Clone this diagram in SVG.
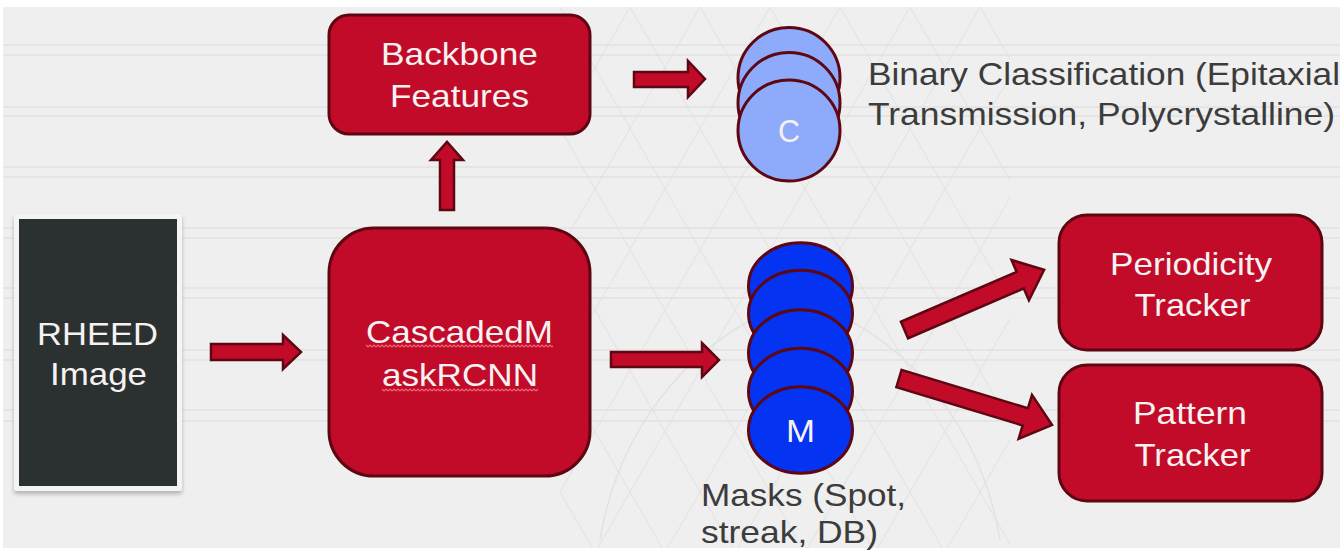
<svg xmlns="http://www.w3.org/2000/svg" width="1340" height="551" viewBox="0 0 1340 551">
  <defs>
    <style>
      .box { fill: #c20b29; stroke: #5e0612; stroke-width: 3; }
      .arrow { fill: #c20b29; stroke: #5e0612; stroke-width: 2.5; stroke-linejoin: miter; }
      .wt { font-family: "Liberation Sans", Arial, sans-serif; font-size: 32px; fill: #f6f2f2; text-anchor: middle; }
      .dk { font-family: "Liberation Sans", Arial, sans-serif; font-size: 32px; fill: #3c3c3c; }
      .disc-c { fill: #8eaafb; stroke: #5e0612; stroke-width: 3; }
      .disc-m { fill: #0434f2; stroke: #5e0612; stroke-width: 3; }
      .band { stroke: #e5e5e5; stroke-width: 2; }
    </style>
    <!-- faint triangular lattice used as a watermark behind the centre -->
    <pattern id="lattice" width="70" height="121.24" patternUnits="userSpaceOnUse" x="560" y="7">
      <path d="M0,0 L70,121.24 M70,0 L0,121.24 M35,-60.62 L105,60.62 M-35,60.62 L35,181.86 M35,60.62 L-35,181.86 M105,-60.62 L35,60.62" stroke="#dcdcdc" stroke-width="1.2" fill="none"/>
    </pattern>
    <!-- wavy spell-check underline -->
    <pattern id="squiggle" width="4" height="4" patternUnits="userSpaceOnUse" x="0" y="0">
      <path d="M0,3 L2,1 L4,3" stroke="#f06a78" stroke-width="1.1" fill="none"/>
    </pattern>
    <filter id="shadow" x="-10%" y="-10%" width="120%" height="120%">
      <feDropShadow dx="0" dy="3" stdDeviation="2" flood-color="#000" flood-opacity="0.25"/>
    </filter>
  </defs>

  <!-- page background -->
  <rect x="0" y="0" width="1340" height="551" fill="#ffffff"/>
  <rect x="3" y="7" width="1337" height="541" fill="#efefef"/>
  <g id="background-bands">
    <line class="band" x1="3" y1="45" x2="1340" y2="45"/>
    <line class="band" x1="3" y1="55" x2="1340" y2="55"/>
    <line class="band" x1="3" y1="107" x2="1340" y2="107"/>
    <line class="band" x1="3" y1="116" x2="1340" y2="116"/>
    <line class="band" x1="3" y1="167" x2="1340" y2="167"/>
    <line class="band" x1="3" y1="177" x2="1340" y2="177"/>
    <line class="band" x1="3" y1="228" x2="1340" y2="228"/>
    <line class="band" x1="3" y1="238" x2="1340" y2="238"/>
    <line class="band" x1="3" y1="288" x2="1340" y2="288"/>
    <line class="band" x1="3" y1="298" x2="1340" y2="298"/>
    <line class="band" x1="3" y1="350" x2="1340" y2="350"/>
    <line class="band" x1="3" y1="360" x2="1340" y2="360"/>
    <line class="band" x1="3" y1="410" x2="1340" y2="410"/>
    <line class="band" x1="3" y1="421" x2="1340" y2="421"/>
    <rect x="560" y="7" width="450" height="541" fill="url(#lattice)" opacity="0.55"/>
    <path d="M600,540 C620,420 700,330 800,300 C900,330 980,420 1000,540" stroke="#e2e2e2" stroke-width="1.5" fill="none"/>
  </g>

  <!-- connectors -->
  <g id="connectors">
    <!-- RHEED image to CascadedMaskRCNN -->
    <polygon class="arrow" points="211,344 283,344 283,335 301,352 283,369 283,360 211,360"/>
    <!-- CascadedMaskRCNN up to backbone features -->
    <polygon class="arrow" points="440,210 440,160 431,160 447,142 463,160 454,160 454,210"/>
    <!-- backbone features to classification heads -->
    <polygon class="arrow" points="634,72 688,72 688,61 705,79 688,97 688,87 634,87"/>
    <!-- CascadedMaskRCNN to mask heads -->
    <polygon class="arrow" points="611,352 702,352 702,343 719,360 702,377 702,367 611,367"/>
    <!-- masks to periodicity tracker -->
    <polygon class="arrow" transform="translate(904.5,330) rotate(-23.3)" points="0,-9 126,-9 126,-22 152,0 126,22 126,9 0,9"/>
    <!-- masks to pattern tracker -->
    <polygon class="arrow" transform="translate(899,378.5) rotate(16.9)" points="0,-9 132,-9 132,-23 160,0 132,23 132,9 0,9"/>
  </g>

  <g id="rheed-image">
    <rect x="14" y="214" width="168" height="277" rx="3" fill="#f4f4f4" filter="url(#shadow)"/>
    <rect x="19" y="219" width="158" height="267" fill="#2b3030"/>
    <text class="wt" x="97.5" y="345" textLength="121" lengthAdjust="spacingAndGlyphs">RHEED</text>
    <text class="wt" x="98.5" y="385" textLength="97" lengthAdjust="spacingAndGlyphs">Image</text>
  </g>

  <g id="backbone-features">
    <rect class="box" x="329" y="15" width="261" height="119" rx="20"/>
    <text class="wt" x="459.5" y="65" textLength="157" lengthAdjust="spacingAndGlyphs">Backbone</text>
    <text class="wt" x="459.5" y="107" textLength="139" lengthAdjust="spacingAndGlyphs">Features</text>
  </g>

  <g id="cascaded-mask-rcnn">
    <rect class="box" x="329" y="228" width="261" height="248" rx="45"/>
    <text class="wt" x="459.5" y="343" textLength="187" lengthAdjust="spacingAndGlyphs">CascadedM</text>
    <rect x="366" y="344" width="187" height="4" fill="url(#squiggle)"/>
    <text class="wt" x="460" y="386" textLength="156" lengthAdjust="spacingAndGlyphs">askRCNN</text>
    <rect x="382" y="388" width="156" height="4" fill="url(#squiggle)"/>
  </g>

  <g id="classification-heads">
    <ellipse class="disc-c" cx="789" cy="78" rx="51" ry="50.5"/>
    <ellipse class="disc-c" cx="789" cy="103" rx="51" ry="50.5"/>
    <ellipse class="disc-c" cx="789" cy="130.5" rx="51" ry="50.5"/>
    <text class="wt" x="789" y="142" textLength="22" lengthAdjust="spacingAndGlyphs">C</text>
  </g>

  <g id="classification-label">
    <text class="dk" x="868" y="85" textLength="472" lengthAdjust="spacingAndGlyphs">Binary Classification (Epitaxial</text>
    <text class="dk" x="868" y="125" textLength="467" lengthAdjust="spacingAndGlyphs">Transmission, Polycrystalline)</text>
  </g>

  <g id="mask-heads">
    <ellipse class="disc-m" cx="800.5" cy="286" rx="52" ry="43.3"/>
    <ellipse class="disc-m" cx="800.5" cy="313.5" rx="52" ry="43.3"/>
    <ellipse class="disc-m" cx="800.5" cy="353" rx="52" ry="43.3"/>
    <ellipse class="disc-m" cx="800.5" cy="391.5" rx="52" ry="43.3"/>
    <ellipse class="disc-m" cx="800.5" cy="430" rx="52" ry="43.3"/>
    <text class="wt" x="800.5" y="442" textLength="29" lengthAdjust="spacingAndGlyphs">M</text>
  </g>

  <g id="mask-label">
    <text class="dk" x="701" y="506" textLength="205" lengthAdjust="spacingAndGlyphs">Masks (Spot,</text>
    <text class="dk" x="701" y="543" textLength="177" lengthAdjust="spacingAndGlyphs">streak, DB)</text>
  </g>

  <g id="periodicity-tracker">
    <rect class="box" x="1059" y="215" width="263" height="135" rx="28"/>
    <text class="wt" x="1191" y="275" textLength="162" lengthAdjust="spacingAndGlyphs">Periodicity</text>
    <text class="wt" x="1192.5" y="316" textLength="116" lengthAdjust="spacingAndGlyphs">Tracker</text>
  </g>

  <g id="pattern-tracker">
    <rect class="box" x="1059" y="365" width="263" height="136" rx="28"/>
    <text class="wt" x="1190" y="424" textLength="114" lengthAdjust="spacingAndGlyphs">Pattern</text>
    <text class="wt" x="1192.5" y="466" textLength="116" lengthAdjust="spacingAndGlyphs">Tracker</text>
  </g>
</svg>
